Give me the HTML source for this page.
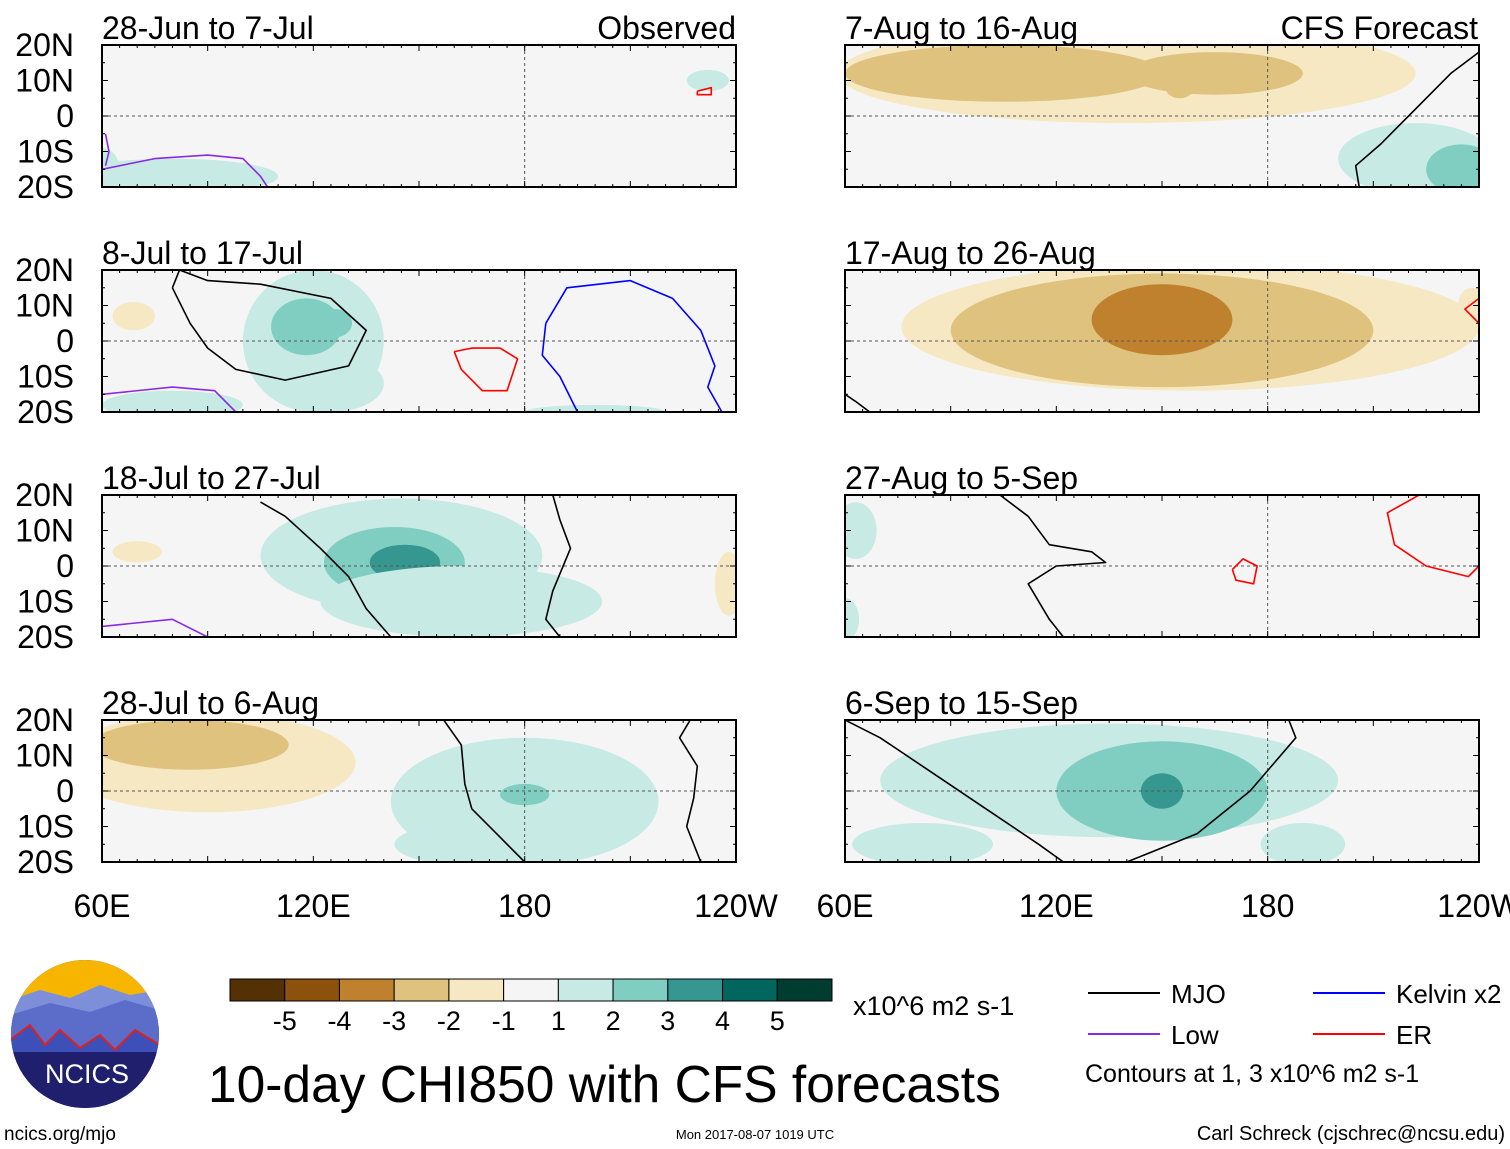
<!DOCTYPE html>
<html><head><meta charset="utf-8">
<style>
html,body{margin:0;padding:0;background:#fff;}
svg{display:block;font-family:"Liberation Sans",sans-serif;}
</style></head>
<body>
<svg id="chart" width="1510" height="1149" viewBox="0 0 1510 1149" xmlns="http://www.w3.org/2000/svg">
<g id="panels"></g>
<g id="legend"></g>
</svg>
<script>
const NS="http://www.w3.org/2000/svg";
const svg=document.getElementById('panels');
const leg=document.getElementById('legend');
const colors=["#543005","#8c510a","#bf812d","#dfc27d","#f6e8c3","#f5f5f5","#c7eae5","#80cdc1","#35978f","#01665e","#003c30"];
const colorLabels=["-5","-4","-3","-2","-1","1","2","3","4","5"];
const panelTitles=["28-Jun to 7-Jul","7-Aug to 16-Aug","8-Jul to 17-Jul","17-Aug to 26-Aug","18-Jul to 27-Jul","27-Aug to 5-Sep","28-Jul to 6-Aug","6-Sep to 15-Sep"];
const latTicks=["20N","10N","0","10S","20S"];
const latVals=[20,10,0,-10,-20];
const lonTicks=["60E","120E","180","120W"];
const lonVals=[60,120,180,240];
// blobs: [panel, lonCenter, latCenter, lonRadius, latRadius, colorIndex]
const blobs=[
[0,232,10,6,3,6],[0,80,-17,30,5,6],[0,60,-15,5,6,6],
[1,140,12,82,14,4],[1,105,12,45,8,3],[1,165,12,25,6,3],[1,155,8,4,3,3],[1,222,-12,22,10,6],[1,235,-15,10,7,7],
[2,120,0,20,20,6],[2,125,-12,15,8,6],[2,118,4,10,8,7],[2,126,5,5,4,7],[2,80,-18,20,4,6],[2,69,7,6,4,4],[2,200,-20,20,2,6],
[3,158,4,82,18,4],[3,150,3,60,16,3],[3,150,6,20,10,2],[3,238,10,4,5,4],
[4,145,3,40,16,6],[4,143,1,20,10,7],[4,146,1,10,5,8],[4,70,4,7,3,4],[4,238,-5,4,9,4],[4,162,-10,40,10,6],
[5,60,-15,4,6,6],[5,63,10,6,8,6],
[6,90,8,42,14,4],[6,85,13,28,7,3],[6,180,-3,38,18,6],[6,180,-1,7,3,7],[6,165,-15,22,6,6],
[7,135,3,65,16,6],[7,150,0,30,14,7],[7,150,0,6,5,8],[7,190,-15,12,6,6],[7,82,-15,20,6,6]
];
// contours: [panel, color, lon/lat points]
const contours=[
[0,"#8a2be2",[[60,-15],[75,-12],[90,-11],[100,-12],[105,-17],[107,-20]]],
[0,"#8a2be2",[[61,-5],[62,-10],[61,-14]]],
[0,"red",[[229,7],[233,8],[233,6],[229,6],[229,7]]],
[1,"black",[[240,18],[232,12],[222,2],[212,-8],[205,-14],[206,-20]]],
[2,"black",[[80,15],[82,20],[90,17],[105,16],[125,12],[135,3],[130,-7],[112,-11],[98,-8],[90,-2],[85,5],[80,15]]],
[2,"red",[[160,-3],[165,-2],[173,-2],[178,-5],[175,-14],[168,-14],[162,-8],[160,-3]]],
[2,"blue",[[186,5],[192,15],[210,17],[222,12],[230,3],[234,-7],[232,-13],[236,-20]]],
[2,"blue",[[186,5],[185,-4],[190,-10],[195,-20]]],
[2,"#8a2be2",[[60,-15],[80,-13],[92,-14],[98,-20]]],
[3,"black",[[60,-15],[63,-17],[67,-20]]],
[3,"red",[[240,12],[236,9],[240,5]]],
[4,"black",[[105,18],[112,14],[122,5],[130,-3],[135,-12],[142,-20]]],
[4,"black",[[188,20],[190,13],[193,5],[188,-7],[186,-15],[190,-20]]],
[4,"#8a2be2",[[60,-17],[80,-15],[90,-20]]],
[5,"black",[[104,20],[112,14],[118,6],[130,4],[134,1],[120,0],[112,-5],[118,-15],[122,-20]]],
[5,"red",[[170,-1],[173,2],[177,0],[176,-5],[171,-4],[170,-1]]],
[5,"red",[[223,20],[214,15],[216,6],[225,0],[237,-3],[240,0]]],
[6,"black",[[157,20],[162,13],[163,2],[165,-5],[172,-12],[180,-20]]],
[6,"black",[[227,20],[224,15],[229,7],[228,-2],[226,-10],[230,-20]]],
[7,"black",[[60,20],[70,15],[85,5],[100,-5],[115,-15],[122,-20]]],
[7,"black",[[140,-20],[160,-12],[175,0],[188,15],[186,20]]]
];
const P=[];
const rowsY=[45,270,495,720];const colsX=[102,845];const W=634,H=142;
for(let r=0;r<4;r++)for(let c=0;c<2;c++)P.push({x:colsX[c],y:rowsY[r]});
function lonX(p,l){return P[p].x+(l-60)*W/180;}
function latY(p,f){return P[p].y+(20-f)*H/40;}
function el(tag,attrs,parent){const e=document.createElementNS(NS,tag);for(const k in attrs)e.setAttribute(k,attrs[k]);(parent||svg).appendChild(e);return e;}
const defs=el('defs',{});
P.forEach((p,i)=>{
  const cp=el('clipPath',{id:'clip'+i},defs);
  el('rect',{x:p.x,y:p.y,width:W,height:H},cp);
  const bg=el('rect',{x:p.x,y:p.y,width:W,height:H,fill:colors[5]});
  
  
});
const gBlobs=[];P.forEach((p,i)=>{gBlobs.push(el('g',{'clip-path':'url(#clip'+i+')'}));});
blobs.forEach(b=>{
  const e=el('ellipse',{cx:lonX(b[0],b[1]),cy:latY(b[0],b[2]),rx:b[3]*W/180,ry:b[4]*H/40,fill:colors[b[5]]},gBlobs[b[0]]);
  
  
});
P.forEach((p,i)=>{
  const g=gBlobs[i];
  el('line',{x1:p.x,x2:p.x+W,y1:latY(i,0),y2:latY(i,0),stroke:"#555","stroke-dasharray":"3,3","stroke-width":1},g);
  el('line',{x1:lonX(i,180),x2:lonX(i,180),y1:p.y,y2:p.y+H,stroke:"#555","stroke-dasharray":"3,3","stroke-width":1},g);
});
contours.forEach(c=>{
  const d=c[2].map((q,k)=>(k?'L':'M')+lonX(c[0],q[0]).toFixed(1)+' '+latY(c[0],q[1]).toFixed(1)).join(' ');
  const e=el('path',{d:d,fill:'none',stroke:c[1],'stroke-width':1.6,'stroke-linejoin':'round'},gBlobs[c[0]]);
  
  
});
P.forEach((p,i)=>{
  const fr=el('rect',{x:p.x,y:p.y,width:W,height:H,fill:'none',stroke:'#000','stroke-width':2});
  
  
  for(let l=60;l<=240;l+=5){const x=lonX(i,l);const len=l%30===0?6:3;
    el('line',{x1:x,x2:x,y1:p.y,y2:p.y+len,stroke:'#000'});el('line',{x1:x,x2:x,y1:p.y+H,y2:p.y+H-len,stroke:'#000'});}
  for(let f=-20;f<=20;f+=5){const y=latY(i,f);const len=f%10===0?6:3;
    el('line',{x1:p.x,x2:p.x+len,y1:y,y2:y,stroke:'#000'});el('line',{x1:p.x+W,x2:p.x+W-len,y1:y,y2:y,stroke:'#000'});}
  const t=el('text',{x:p.x,y:p.y-6,'font-size':32});t.textContent=panelTitles[i];
  
  
  if(i%2===0){latVals.forEach((v,k)=>{const tt=el('text',{x:74,y:latY(i,v)+11,'font-size':32,'text-anchor':'end'});tt.textContent=latTicks[k];
    
    });}
  if(i>=6){lonVals.forEach((v,k)=>{const tt=el('text',{x:lonX(i,v),y:917,'font-size':32,'text-anchor':'middle'});tt.textContent=lonTicks[k];
    
    });}
});
let t1=el('text',{x:736,y:39,'font-size':32,'text-anchor':'end'});t1.textContent="Observed";

let t2=el('text',{x:1478,y:39,'font-size':32,'text-anchor':'end'});t2.textContent="CFS Forecast";

// legend
const bx=230,bw=602/11;
colors.forEach((c,k)=>{const r=el('rect',{x:bx+k*bw,y:979,width:bw,height:22,fill:c,stroke:'#000','stroke-width':1},leg);
  });
colorLabels.forEach((s,k)=>{const t=el('text',{x:bx+(k+1)*bw,y:1030,'font-size':27,'text-anchor':'middle'},leg);t.textContent=s;
  });
function txt(x,y,s,fs,name,anchor){const t=el('text',{x:x,y:y,'font-size':fs,'text-anchor':anchor||'start'},leg);t.textContent=s;return t;}
txt(853,1015,"x10^6 m2 s-1",27,'units-label');
txt(208,1102,"10-day CHI850 with CFS forecasts",51.5,'main-title');
const legItems=[["MJO","#000",1088,993],["Kelvin x2","#0000ff",1313,993],["Low","#8a2be2",1088,1034],["ER","#ff0000",1313,1034]];
legItems.forEach(it=>{el('line',{x1:it[2],x2:it[2]+72,y1:it[3],y2:it[3],stroke:it[1],'stroke-width':2},leg);txt(it[2]+83,it[3]+10,it[0],26,'legend-entry');});
txt(1085,1082,"Contours at 1, 3 x10^6 m2 s-1",25,'contour-note');
txt(4,1140,"ncics.org/mjo",19,'site-url');
txt(755,1139,"Mon 2017-08-07 1019 UTC",13,'timestamp','middle');
txt(1505,1140,"Carl Schreck (cjschrec@ncsu.edu)",20,'author','end');
// logo
const lg=el('g',{},leg);
const lcp=el('clipPath',{id:'logoclip'},defs);
el('circle',{cx:85,cy:1034,r:74},lcp);
const lc=el('g',{'clip-path':'url(#logoclip)'},lg);
el('rect',{x:10,y:958,width:150,height:160,fill:'#1f1f6e'},lc);
el('rect',{x:10,y:958,width:150,height:50,fill:'#f7b500'},lc);
el('path',{d:'M10 1000 L40 990 L70 998 L100 985 L130 995 L160 990 L160 1050 L10 1050 Z',fill:'#7d8fd8'},lc);
el('path',{d:'M10 1015 L50 1003 L90 1012 L125 1000 L160 1010 L160 1060 L10 1060 Z',fill:'#5b6cc9'},lc);
el('path',{d:'M10 1040 L30 1025 L45 1045 L60 1030 L80 1048 L100 1035 L115 1050 L135 1030 L160 1045 L160 1060 L10 1060 Z',fill:'#3d4fb8',stroke:'#e02020','stroke-width':2},lc);
el('rect',{x:10,y:1052,width:150,height:70,fill:'#1f1f6e'},lc);
txt(87,1083,"NCICS",27,'logo-text','middle').setAttribute('fill','#fff');
</script>
</body></html>
